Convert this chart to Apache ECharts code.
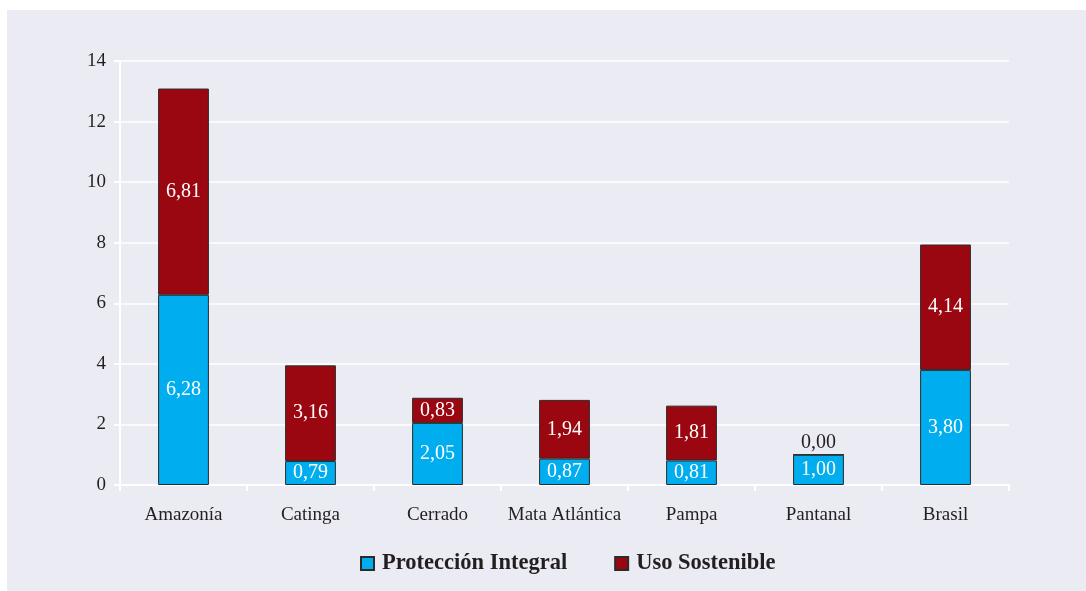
<!DOCTYPE html>
<html><head><meta charset="utf-8">
<script src="https://cdn.jsdelivr.net/npm/echarts@6/dist/echarts.min.js"></script>
<style>
html,body{margin:0;padding:0;background:#fff;}
#bg{position:absolute;left:7px;top:10px;width:1079px;height:581px;background:#ebebf3;}
#c{position:absolute;left:0;top:0;width:1086px;height:591px;}
</style></head>
<body><div id="bg"></div><div id="c"></div>
<script>
const categories = ['Amazonía','Catinga','Cerrado','Mata Atlántica','Pampa','Pantanal','Brasil'];
const proteccionIntegral = [6.28, 0.79, 2.05, 0.87, 0.81, 1.00, 3.80];
const usoSostenible = [6.81, 3.16, 0.83, 1.94, 1.81, 0.00, 4.14];
const seriesNames = ['Protección Integral','Uso Sostenible'];

const fmt = v => (typeof v === 'object' ? v.value : v).toFixed(2).replace('.', ',');
const serif = '"Liberation Serif", "Times New Roman", serif';
const chart = echarts.init(document.getElementById('c'));
chart.setOption({
  backgroundColor: 'transparent',
  animation: false,
  grid: {left: 120, right: 77, top: 61, bottom: 106, containLabel: false},
  legend: {
    bottom: 11, left: 355, itemWidth: 13, itemHeight: 13, itemGap: 47,
    icon: 'rect',
    textStyle: {fontFamily: serif, fontWeight: 'bold', fontSize: 22.5, color: '#231f20', padding: [0, 0, 0, 3]},
    data: seriesNames
  },
  xAxis: {
    type: 'category', data: categories,
    axisLine: {lineStyle: {color: '#fff', width: 2}},
    axisTick: {show: true, length: 6, lineStyle: {color: '#fff', width: 2}},
    axisLabel: {interval: 0, fontFamily: serif, fontSize: 19, color: '#231f20', margin: 21}
  },
  yAxis: {
    type: 'value', min: 0, max: 14, interval: 2,
    axisLine: {show: true, lineStyle: {color: '#fff', width: 2}},
    axisTick: {show: true, length: 6, lineStyle: {color: '#fff', width: 2}},
    splitLine: {lineStyle: {color: '#fff', width: 1.5}},
    axisLabel: {fontFamily: serif, fontSize: 19, color: '#231f20', margin: 14}
  },
  series: [
    {
      name: seriesNames[0], type: 'bar', stack: 's', barWidth: '40%',
      data: proteccionIntegral,
      itemStyle: {color: '#00aeef', borderColor: '#2b2b2b', borderWidth: 1},
      label: {show: true, position: 'inside', color: '#fff', fontFamily: serif, fontSize: 20,
        formatter: p => fmt(p.value)}
    },
    {
      name: seriesNames[1], type: 'bar', stack: 's', barWidth: '40%',
      data: usoSostenible.map(v => v === 0
        ? {value: v, label: {position: 'top', color: '#231f20', distance: 1}}
        : v),
      itemStyle: {color: '#9b0710', borderColor: '#2b2b2b', borderWidth: 1},
      label: {show: true, position: 'inside', color: '#fff', fontFamily: serif, fontSize: 20,
        formatter: p => fmt(p.value)}
    }
  ]
});
</script></body></html>
